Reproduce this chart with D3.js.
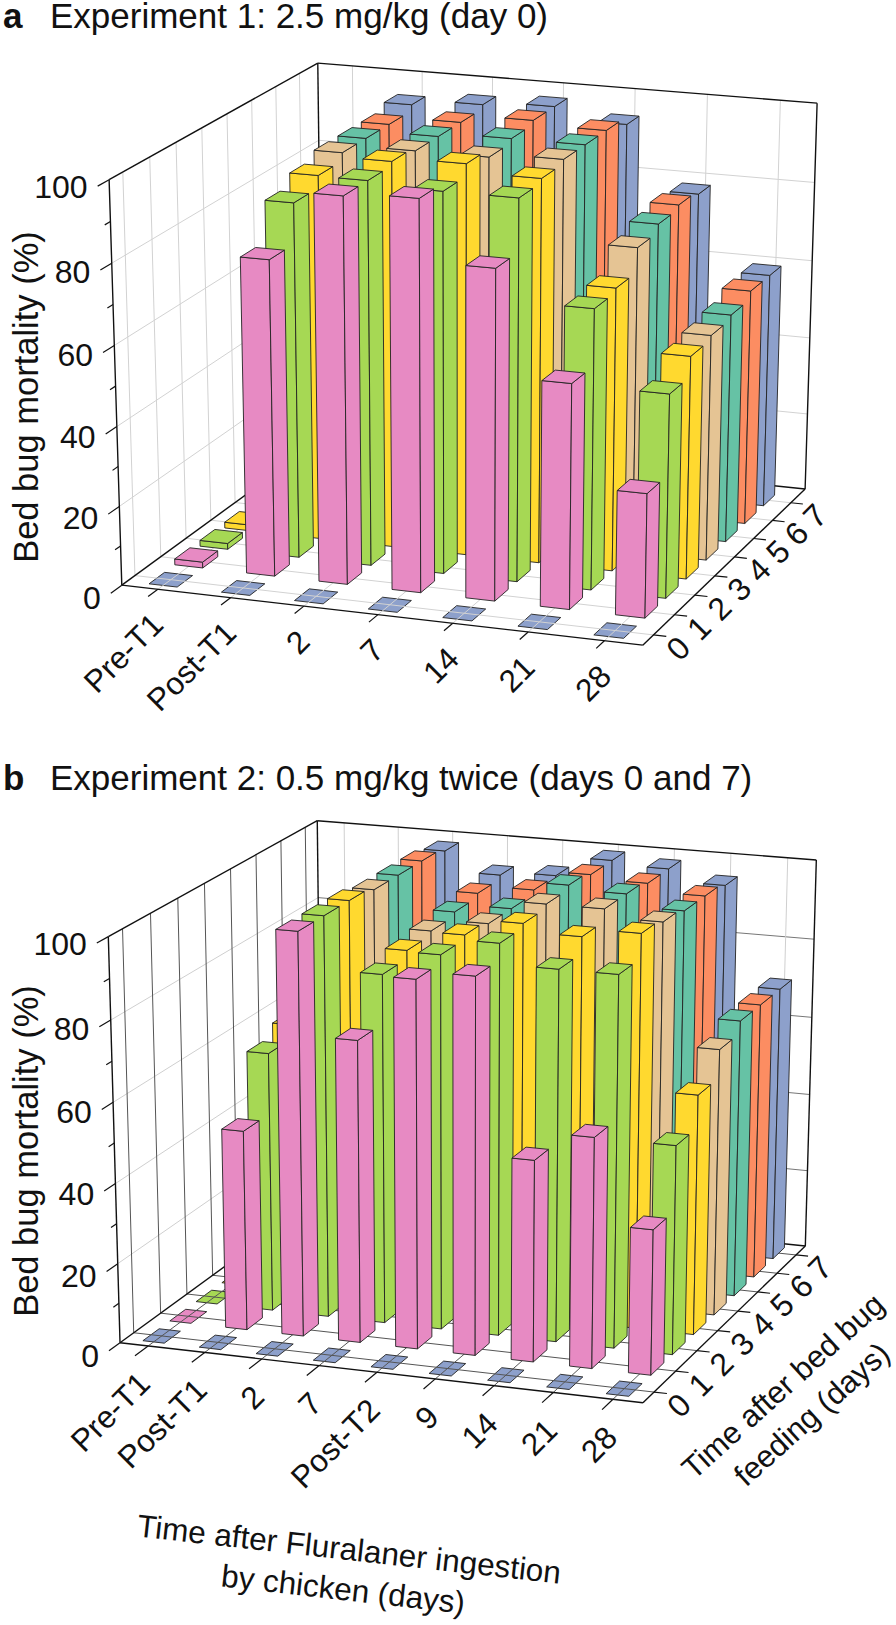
<!DOCTYPE html>
<html>
<head>
<meta charset="utf-8">
<script src="https://cdn.jsdelivr.net/npm/d3@7"></script>
<style>
  html, body { margin: 0; padding: 0; background: #fff; }
  text { font-family: "Liberation Sans", Arial, sans-serif; fill: #111; }
</style>
</head>
<body>
<svg id="chart" width="896" height="1625"></svg>
<script>
  // categories
  var feedDays = ["0", "1", "2", "3", "4", "5", "6", "7"];
  var timesA = ["Pre-T1", "Post-T1", "2", "7", "14", "21", "28"];
  var timesB = ["Pre-T1", "Post-T1", "2", "7", "Post-T2", "9", "14", "21", "28"];
  var mortalityTicks = [0, 20, 40, 60, 80, 100];
  var minorTicks = [10, 30, 50, 70, 90];

  // bed bug mortality (%), one list per feeding day
  var a0 = [0, 0, 0, 0, 0, 0, 0];
  var a1 = [1.5, 79, 96, 97, 82, 56, 31];
  var a2 = [1.5, 89, 96, 95, 95, 70, 51];
  var a3 = [1.5, 92, 97, 98, 96, 71, 56];
  var a4 = [1, 94, 96, 96, 97, 77, 57];
  var a5 = [1, 94, 96, 97, 97, 79, 58];
  var a6 = [1, 94, 96, 98, 97, 80, 60];
  var a7 = [1, 95.5, 97, 98, 95, 79, 60];

  var b0 = [0, 0, 0, 0, 0, 0, 0, 0, 0];
  var b1 = [0, 50, 100, 75, 91, 93, 50, 57, 36];
  var b2 = [0, 65, 100, 87, 93, 97, 92, 92, 52];
  var b3 = [0, 68, 100, 89, 94, 98, 96, 98, 60];
  var b4 = [0, 60, 99, 90, 93, 99, 99, 97, 67];
  var b5 = [0, 60, 99, 91, 93, 100, 99, 96, 70];
  var b6 = [0, 60, 99, 92, 94, 99, 98, 96, 70];
  var b7 = [0, 60, 98, 93, 94, 99, 98, 95, 70];

  // Set2 colours in feeding day order
  var rowColors = ["#8da0cb", "#e78ac3", "#a6d854", "#ffd92f", "#e5c494", "#66c2a5", "#fc8d62", "#8da0cb"];

  var svg = d3.select("#chart");

  // solve the camera (3x4 matrix, last entry 1) from known box corners
  function fitCamera(pairs) {
    var rows = [], rhs = [];
    pairs.forEach(function(p) {
      var X = p[0], u = p[1][0], v = p[1][1];
      rows.push([X[0], X[1], X[2], 1, 0, 0, 0, 0, -u * X[0], -u * X[1], -u * X[2]]);
      rhs.push(u);
      rows.push([0, 0, 0, 0, X[0], X[1], X[2], 1, -v * X[0], -v * X[1], -v * X[2]]);
      rhs.push(v);
    });
    // normal equations
    var n = 11, M = [];
    for (var i = 0; i < n; i++) {
      M.push([]);
      for (var j = 0; j <= n; j++) {
        var s = 0;
        rows.forEach(function(r, k) { s += r[i] * (j < n ? r[j] : rhs[k]); });
        M[i].push(s);
      }
    }
    for (var c = 0; c < n; c++) {
      var best = c;
      for (var r = c + 1; r < n; r++) if (Math.abs(M[r][c]) > Math.abs(M[best][c])) best = r;
      var tmp = M[c]; M[c] = M[best]; M[best] = tmp;
      for (var r2 = 0; r2 < n; r2++) {
        if (r2 === c) continue;
        var f = M[r2][c] / M[c][c];
        for (var q = c; q <= n; q++) M[r2][q] -= f * M[c][q];
      }
    }
    var h = M.map(function(row, idx) { return row[n] / row[idx]; });
    return function(x, y, z) {
      var w = h[8] * x + h[9] * y + h[10] * z + 1;
      return [(h[0] * x + h[1] * y + h[2] * z + h[3]) / w,
              (h[4] * x + h[5] * y + h[6] * z + h[7]) / w];
    };
  }

  function drawPanel(cfg) {
    var g = svg.append("g");
    var cam = fitCamera(cfg.corners);

    // box coordinates, 0..1 on each side
    var xBand = d3.scaleBand().domain(cfg.times).range([0, 1]);
    var yBand = d3.scaleBand().domain(feedDays).range([0, cfg.yEnd]);
    var zScale = d3.scaleLinear().domain([0, 100]).range([0, 1]);
    var xMid = function(t) { return xBand(t) + xBand.bandwidth() / 2; };
    var yMid = function(d) { return yBand(d) + yBand.bandwidth() / 2; };

    function line(p, q, color, width) {
      var a = cam(p[0], p[1], p[2]), b = cam(q[0], q[1], q[2]);
      g.append("line")
        .attr("x1", a[0]).attr("y1", a[1])
        .attr("x2", b[0]).attr("y2", b[1])
        .attr("stroke", color)
        .attr("stroke-width", width);
    }

    function face(pts, color) {
      g.append("polygon")
        .attr("points", pts.map(function(p) { return cam(p[0], p[1], p[2]).join(","); }).join(" "))
        .attr("fill", color)
        .attr("stroke", "#222")
        .attr("stroke-width", 0.9)
        .attr("stroke-linejoin", "round");
    }

    // bars, as a flat list
    var bars = [];
    feedDays.forEach(function(day, r) {
      cfg.series[r].forEach(function(v, c) {
        bars.push({ time: cfg.times[c], day: day, value: v, row: r, col: c });
      });
    });

    // flat tiles sit under the floor grid
    function barBox(d) {
      var w = xBand.bandwidth() * cfg.barW, dp = yBand.bandwidth() * 0.6;
      var x0 = xMid(d.time) - w / 2, x1 = x0 + w;
      var y0 = yMid(d.day) - dp / 2, y1 = y0 + dp;
      return { x0: x0, x1: x1, y0: y0, y1: y1, z: zScale(d.value) };
    }

    bars.filter(function(d) { return d.value === 0; }).forEach(function(d) {
      var b = barBox(d);
      face([[b.x0, b.y0, 0], [b.x1, b.y0, 0], [b.x1, b.y1, 0], [b.x0, b.y1, 0]], rowColors[d.row]);
    });

    // wall and floor grid
    mortalityTicks.slice(1, 5).forEach(function(v) {
      var z = zScale(v);
      line([0, 0, z], [0, 1, z], cfg.leftH, 1);
      line([0, 1, z], [1, 1, z], cfg.backH, 1);
    });
    feedDays.forEach(function(d) {
      var y = yMid(d);
      line([0, y, 0], [0, y, 1], cfg.leftV, 1);
      line([0, y, 0], [1, y, 0], cfg.floor, 1);
    });
    cfg.times.forEach(function(t) {
      var x = xMid(t);
      line([x, 1, 0], [x, 1, 1], cfg.backV, 1);
      line([x, 0, 0], [x, 1, 0], cfg.floor, 1);
    });

    // box outline
    var axisColor = "#111";
    [
      [[0, 0, 0], [1, 0, 0]], [[1, 0, 0], [1, 1, 0]], [[1, 1, 0], [0, 1, 0]], [[0, 1, 0], [0, 0, 0]],
      [[0, 0, 0], [0, 0, 1]], [[0, 1, 0], [0, 1, 1]], [[1, 1, 0], [1, 1, 1]],
      [[0, 0, 1], [0, 1, 1]], [[0, 1, 1], [1, 1, 1]]
    ].forEach(function(e) { line(e[0], e[1], axisColor, 1.4); });

    // ticks and tick labels, z axis
    mortalityTicks.forEach(function(v) {
      var z = zScale(v);
      line([0, 0, z], [0, -0.05, z], axisColor, 1.2);
      var p = cam(0, -0.05, z);
      g.append("text")
        .attr("x", p[0] - 10)
        .attr("y", p[1] + 16 - z * 4)
        .attr("text-anchor", "end")
        .attr("font-size", 32)
        .text(v);
    });
    minorTicks.forEach(function(v) {
      line([0, 0, zScale(v)], [0, -0.025, zScale(v)], axisColor, 1.2);
    });

    // x axis
    cfg.times.forEach(function(t) {
      var x = xMid(t);
      line([x, 0, 0], [x, cfg.xTick, 0], axisColor, 1.2);
      var p = cam(x, cfg.xTick, 0);
      g.append("text")
        .attr("transform", "translate(" + (p[0] + 17) + "," + (p[1] + 30) + ") rotate(-45)")
        .attr("text-anchor", "end")
        .attr("font-size", 31.5)
        .text(t);
    });

    // feeding day axis
    feedDays.forEach(function(d) {
      var y = yMid(d);
      line([1, y, 0], [1.024, y, 0], axisColor, 1.2);
      var p = cam(1.024, y, 0);
      g.append("text")
        .attr("transform", "translate(" + (p[0] + 12) + "," + (p[1] + 12) + ") rotate(-45)")
        .attr("text-anchor", "middle")
        .attr("dominant-baseline", "central")
        .attr("font-size", 32)
        .text(d);
    });

    // bars with height, back to front and left to right
    bars.filter(function(d) { return d.value > 0; })
      .sort(function(p, q) { return d3.ascending(p.col, q.col) || d3.descending(p.row, q.row); })
      .forEach(function(d) {
        var b = barBox(d), color = rowColors[d.row];
        face([[b.x0, b.y0, 0], [b.x1, b.y0, 0], [b.x1, b.y0, b.z], [b.x0, b.y0, b.z]], color);
        face([[b.x1, b.y0, 0], [b.x1, b.y1, 0], [b.x1, b.y1, b.z], [b.x1, b.y0, b.z]], color);
        face([[b.x0, b.y0, b.z], [b.x1, b.y0, b.z], [b.x1, b.y1, b.z], [b.x0, b.y1, b.z]], color);
      });

    // panel titles
    g.append("text").attr("x", 3).attr("y", cfg.titleY)
      .attr("font-size", 35).attr("font-weight", "bold").text(cfg.letter);
    g.append("text").attr("x", 50).attr("y", cfg.titleY)
      .attr("font-size", 35).text(cfg.title);
    g.append("text")
      .attr("transform", "translate(38," + cfg.yLabelY + ") rotate(-90)")
      .attr("text-anchor", "middle")
      .attr("font-size", 34.5)
      .text("Bed bug mortality (%)");
  }

  drawPanel({
    letter: "a", title: "Experiment 1: 2.5 mg/kg (day 0)", titleY: 28, yLabelY: 397,
    times: timesA, series: [a0, a1, a2, a3, a4, a5, a6, a7],
    xTick: -0.045, barW: 0.39, yEnd: 0.965,
    leftH: "#d2d2d2", leftV: "#d2d2d2", backH: "#d2d2d2", backV: "#d2d2d2", floor: "#d2d2d2",
    corners: [
      [[0, 0, 0], [121.7, 585]], [[1, 0, 0], [643, 645]], [[1, 1, 0], [805, 489.3]],
      [[0, 0, 1], [109, 180]], [[0, 1, 1], [318, 63]], [[1, 1, 1], [817, 103]]
    ]
  });

  drawPanel({
    letter: "b", title: "Experiment 2: 0.5 mg/kg twice (days 0 and 7)", titleY: 790, yLabelY: 1151,
    times: timesB, series: [b0, b1, b2, b3, b4, b5, b6, b7],
    xTick: -0.06, barW: 0.38, yEnd: 1,
    leftH: "#cfcfcf", leftV: "#555", backH: "#777", backV: "#cfcfcf", floor: "#555",
    corners: [
      [[0, 0, 0], [120, 1342.7]], [[1, 0, 0], [643, 1402.7]], [[1, 1, 0], [805.3, 1246]],
      [[0, 0, 1], [108.3, 936.7]], [[0, 1, 1], [317.3, 820.7]], [[1, 1, 1], [816.3, 860]]
    ]
  });

  // shared axis titles
  var titles = [
    ["Time after Fluralaner ingestion", 348, 1560, 6.4, 31.5],
    ["by chicken (days)", 342, 1600, 6.4, 31.5],
    ["Time after bed bug", 790, 1394, -42, 31],
    ["feeding (days)", 819, 1422, -42, 31]
  ];
  titles.forEach(function(t) {
    svg.append("text")
      .attr("transform", "translate(" + t[1] + "," + t[2] + ") rotate(" + t[3] + ")")
      .attr("text-anchor", "middle")
      .attr("font-size", t[4])
      .text(t[0]);
  });
</script>
</body>
</html>
